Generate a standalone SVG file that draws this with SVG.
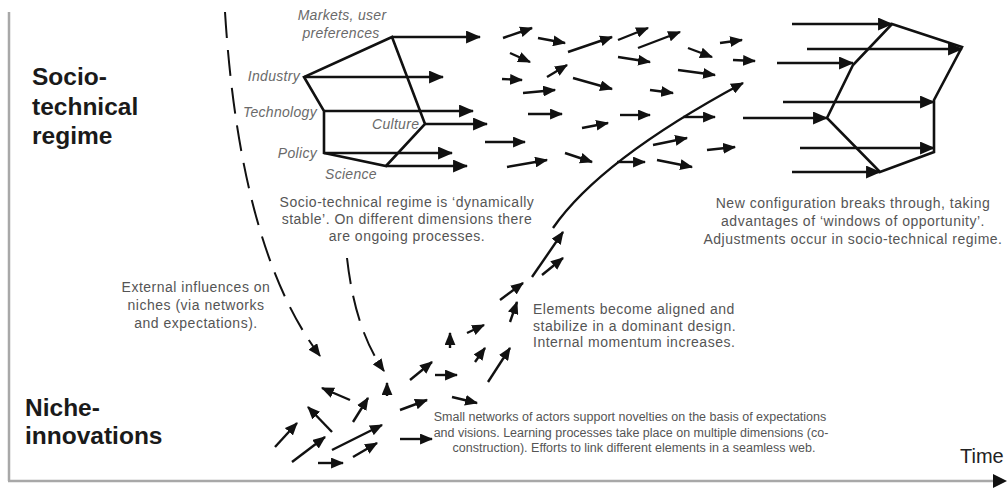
<svg xmlns="http://www.w3.org/2000/svg" width="1007" height="489" viewBox="0 0 1007 489">
<style>
.a{stroke:#111;stroke-width:2.4;fill:none;marker-end:url(#ah)}
.b{stroke:#111;stroke-width:2.6;fill:none;marker-end:url(#ahb)}
.poly{stroke:#111;stroke-width:2.6;fill:none;stroke-linejoin:miter}
.dash{stroke:#111;stroke-width:2;fill:none;stroke-dasharray:26 12;marker-end:url(#ah)}
.lab{font-family:"Liberation Sans",Arial,sans-serif;font-style:italic;font-size:14px;letter-spacing:0.3px;fill:#6a6a6a}
.note{font-family:"Liberation Sans",Arial,sans-serif;font-size:14px;letter-spacing:0.5px;fill:#555}
.note2{font-family:"Liberation Sans",Arial,sans-serif;font-size:12.5px;fill:#555}
.big{font-family:"Liberation Sans",Arial,sans-serif;font-weight:bold;font-size:24.5px;fill:#1a1a1a}
</style>
<defs>
<marker id="ah" viewBox="0 0 12 10" refX="11" refY="5" markerWidth="13" markerHeight="11" markerUnits="userSpaceOnUse" orient="auto"><path d="M0,0 L12,5 L0,10 z" fill="#111"/></marker>
<marker id="ahb" viewBox="0 0 14 12" refX="13" refY="6" markerWidth="15" markerHeight="13" markerUnits="userSpaceOnUse" orient="auto"><path d="M0,0 L14,6 L0,12 z" fill="#111"/></marker>
</defs>
<rect width="1007" height="489" fill="#fff"/>

<g id="axes">
<line x1="9" y1="12" x2="9" y2="481" stroke="#a8a8a8" stroke-width="2.5"/>
<line x1="8" y1="481" x2="996" y2="481" stroke="#a8a8a8" stroke-width="2.5"/>
<path d="M993,474 L1007,481 L993,488 z" fill="#111"/>
<text x="960" y="463" font-family="Liberation Sans,Arial,sans-serif" font-size="20" fill="#222">Time</text>
</g>

<g id="regime-label">
<text class="big" x="32" y="85">Socio-</text>
<text class="big" x="32" y="115">technical</text>
<text class="big" x="32" y="144">regime</text>
</g>

<g id="niche-label">
<text class="big" x="25" y="416">Niche-</text>
<text class="big" x="25" y="444">innovations</text>
</g>

<g id="regime-configuration">
<polygon class="poly" points="392,37 304,77 324,111 324,153 386,166 425,124"/>
<text class="lab" x="342" y="20" text-anchor="middle">Markets, user</text>
<text class="lab" x="341" y="38" text-anchor="middle">preferences</text>
<text class="lab" x="300" y="81" text-anchor="end">Industry</text>
<text class="lab" x="317" y="117" text-anchor="end">Technology</text>
<text class="lab" x="372" y="129">Culture</text>
<text class="lab" x="317" y="158" text-anchor="end">Policy</text>
<text class="lab" x="325" y="179">Science</text>
</g>

<g id="new-configuration">
<polygon class="poly" points="892,24 962,47 934,100 934,152 880,172 827,118 853,65"/>
</g>

<g id="texts">
<text class="note" text-anchor="middle" x="407" y="207">Socio-technical regime is ‘dynamically</text>
<text class="note" text-anchor="middle" x="407" y="224">stable’. On different dimensions there</text>
<text class="note" text-anchor="middle" x="407" y="241">are ongoing processes.</text>
<text class="note" text-anchor="middle" x="196" y="292">External influences on</text>
<text class="note" text-anchor="middle" x="196" y="310">niches (via networks</text>
<text class="note" text-anchor="middle" x="196" y="328">and expectations).</text>
<text class="note" text-anchor="middle" x="853" y="208">New configuration breaks through, taking</text>
<text class="note" text-anchor="middle" x="853" y="226">advantages of ‘windows of opportunity’.</text>
<text class="note" text-anchor="middle" x="853" y="244">Adjustments occur in socio-technical regime.</text>
<text class="note" x="533" y="314">Elements become aligned and</text>
<text class="note" x="533" y="331">stabilize in a dominant design.</text>
<text class="note" x="533" y="347">Internal momentum increases.</text>
<text class="note2" text-anchor="middle" x="630" y="421">Small networks of actors support novelties on the basis of expectations</text>
<text class="note2" text-anchor="middle" x="631" y="437">and visions. Learning processes take place on multiple dimensions (co-</text>
<text class="note2" text-anchor="middle" x="634" y="452">construction). Efforts to link different elements in a seamless web.</text>
</g>

<g id="connectors">
<path class="dash" d="M225,12 Q240,250 320,356"/>
<path class="dash" d="M347,258 Q355,330 384,371"/>
<path class="a" stroke-width="2" d="M553,228 Q600,160 743,83"/>

<line class="b" x1="392" y1="37" x2="480" y2="37"/>
<line class="b" x1="304" y1="77" x2="443" y2="77"/>
<line class="b" x1="324" y1="111" x2="473" y2="111"/>
<line class="b" x1="425" y1="124" x2="487" y2="124"/>
<line class="b" x1="324" y1="153" x2="452" y2="153"/>
<line class="b" x1="386" y1="166" x2="467" y2="166"/>

<line class="b" x1="792" y1="24" x2="892" y2="24"/>
<line class="b" x1="807" y1="49" x2="962" y2="49"/>
<line class="b" x1="777" y1="63" x2="853" y2="63"/>
<line class="b" x1="783" y1="102" x2="934" y2="102"/>
<line class="b" x1="743" y1="118" x2="827" y2="118"/>
<line class="b" x1="800" y1="148" x2="934" y2="148"/>
<line class="b" x1="792" y1="172" x2="880" y2="172"/>

<line class="a" x1="503" y1="38" x2="532" y2="28"/>
<line class="a" x1="538" y1="38" x2="565" y2="43"/>
<line class="a" x1="568" y1="52" x2="612" y2="37"/>
<line class="a" x1="618" y1="40" x2="648" y2="28"/>
<line class="a" x1="638" y1="48" x2="680" y2="32"/>
<line class="a" x1="720" y1="43" x2="742" y2="40"/>
<line class="a" x1="688" y1="48" x2="712" y2="57"/>
<line class="a" x1="733" y1="60" x2="755" y2="61"/>
<line class="a" x1="510" y1="53" x2="530" y2="62"/>
<line class="a" x1="547" y1="77" x2="567" y2="65"/>
<line class="a" x1="618" y1="57" x2="650" y2="62"/>
<line class="a" x1="502" y1="79" x2="522" y2="80"/>
<line class="a" x1="523" y1="93" x2="555" y2="90"/>
<line class="a" x1="573" y1="78" x2="612" y2="89"/>
<line class="a" x1="678" y1="70" x2="715" y2="75"/>
<line class="a" x1="650" y1="90" x2="673" y2="93"/>
<line class="a" x1="528" y1="114" x2="562" y2="114"/>
<line class="a" x1="620" y1="115" x2="650" y2="115"/>
<line class="a" x1="683" y1="117" x2="715" y2="117"/>
<line class="a" x1="485" y1="142" x2="525" y2="142"/>
<line class="a" x1="582" y1="128" x2="608" y2="123"/>
<line class="a" x1="653" y1="145" x2="687" y2="138"/>
<line class="a" x1="707" y1="150" x2="735" y2="147"/>
<line class="a" x1="507" y1="167" x2="547" y2="160"/>
<line class="a" x1="565" y1="153" x2="592" y2="162"/>
<line class="a" x1="617" y1="162" x2="645" y2="162"/>
<line class="a" x1="657" y1="160" x2="692" y2="167"/>

<line class="a" x1="275" y1="447" x2="297" y2="423"/>
<line class="a" x1="292" y1="462" x2="325" y2="437"/>
<line class="a" x1="318" y1="463" x2="343" y2="463"/>
<line class="a" x1="332" y1="450" x2="382" y2="425"/>
<line class="a" x1="353" y1="457" x2="377" y2="443"/>
<line class="a" x1="332" y1="432" x2="308" y2="407"/>
<line class="a" x1="350" y1="400" x2="322" y2="388"/>
<line class="a" x1="353" y1="422" x2="368" y2="398"/>
<line class="a" x1="387" y1="396" x2="387" y2="383"/>
<line class="a" x1="400" y1="410" x2="427" y2="400"/>
<line class="a" x1="400" y1="439" x2="432" y2="439"/>
<line class="a" x1="410" y1="380" x2="432" y2="362"/>
<line class="a" x1="435" y1="375" x2="457" y2="375"/>
<line class="a" x1="452" y1="397" x2="477" y2="403"/>
<line class="a" x1="450" y1="348" x2="450" y2="333"/>
<line class="a" x1="467" y1="333" x2="484" y2="325"/>
<line class="a" x1="475" y1="362" x2="485" y2="348"/>
<line class="a" x1="488" y1="382" x2="510" y2="348"/>
<line class="a" x1="510" y1="322" x2="517" y2="302"/>
<line class="a" x1="500" y1="300" x2="523" y2="283"/>
<line class="a" x1="532" y1="277" x2="563" y2="232"/>
<line class="a" x1="542" y1="275" x2="563" y2="258"/>
</g>
</svg>
